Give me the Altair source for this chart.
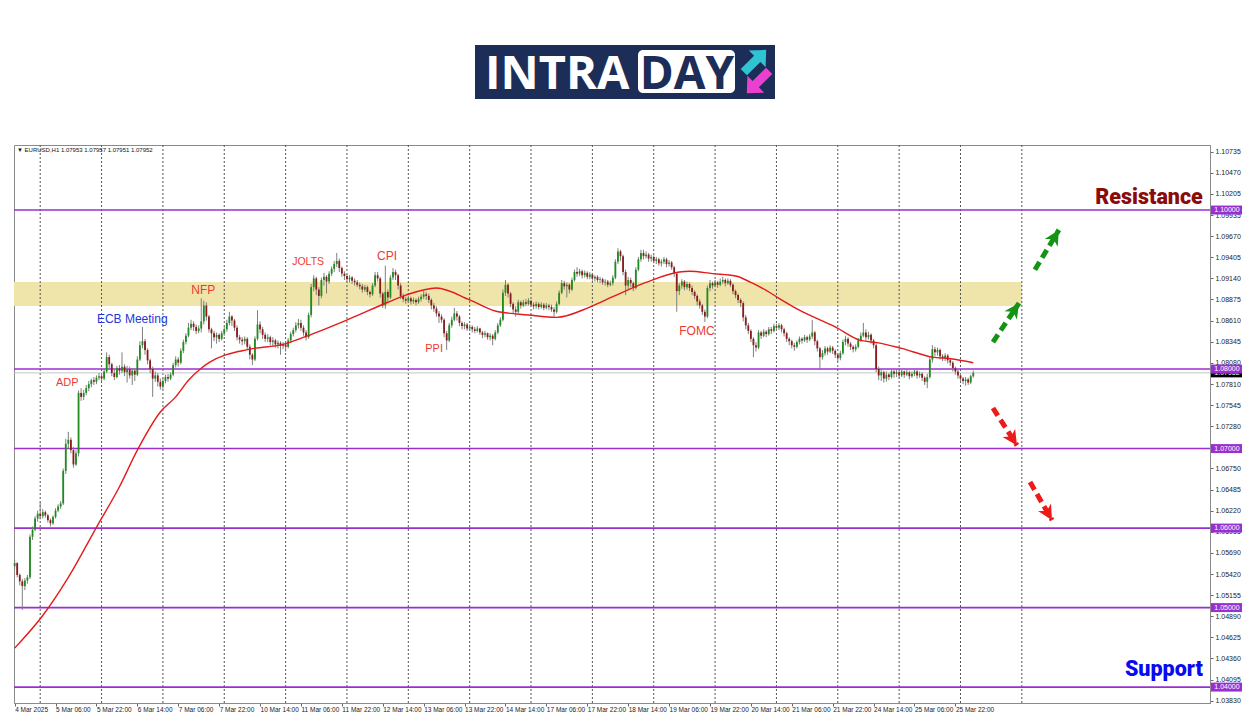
import json
import altair as alt
import pandas as pd

# ---------------- data ----------------
tick_labels = ["4 Mar 2025", "5 Mar 06:00", "5 Mar 22:00", "6 Mar 14:00", "7 Mar 06:00",
               "7 Mar 22:00", "10 Mar 14:00", "11 Mar 06:00", "11 Mar 22:00", "12 Mar 14:00",
               "13 Mar 06:00", "13 Mar 22:00", "14 Mar 14:00", "17 Mar 06:00", "17 Mar 22:00",
               "18 Mar 14:00", "19 Mar 06:00", "19 Mar 22:00", "20 Mar 14:00", "21 Mar 06:00",
               "21 Mar 22:00", "24 Mar 14:00", "25 Mar 06:00", "25 Mar 22:00"]
tick_bars = [0, 16, 32, 48, 64, 80, 96, 112, 128, 144, 160, 176, 192, 208, 224, 240,
             256, 272, 288, 304, 320, 336, 352, 368]
ytick_vals = [1.10735, 1.10470, 1.10205, 1.09935, 1.09670, 1.09405, 1.09140, 1.08875,
              1.08610, 1.08345, 1.08080, 1.07810, 1.07545, 1.07280, 1.07015, 1.06750,
              1.06485, 1.06220, 1.05955, 1.05690, 1.05420, 1.05155, 1.04890, 1.04625,
              1.04360, 1.04095, 1.03830]
grid_bars = [10, 34, 58, 82, 106, 130, 154, 178, 202, 226, 250, 274, 298, 322, 346, 370, 394]
levels = [1.10, 1.08, 1.07, 1.06, 1.05, 1.04]
current_price = 1.07952
zone_bars = [-0.25, 394]
zone_prices = [1.09094, 1.08792]

first_open = 1.0552
closes = [
    1.0556, 1.0541, 1.0533, 1.0527, 1.0534, 1.0538, 1.0589, 1.0598, 1.0612, 1.0618,
    1.0615, 1.0620, 1.0616, 1.0610, 1.0606, 1.0614, 1.0622, 1.0627, 1.0631, 1.0672,
    1.0706, 1.0711, 1.0698, 1.0680, 1.0694, 1.0770, 1.0765, 1.0770, 1.0776, 1.0781,
    1.0786, 1.0784, 1.0789, 1.0791, 1.0788, 1.0797, 1.0815, 1.0806, 1.0795, 1.0790,
    1.0801, 1.0798, 1.0803, 1.0796, 1.0800, 1.0792, 1.0798, 1.0793, 1.0812, 1.0830,
    1.0835, 1.0824, 1.0811, 1.0800, 1.0788, 1.0792, 1.0784, 1.0778, 1.0785, 1.0790,
    1.0788, 1.0793, 1.0805, 1.0812, 1.0808, 1.0823, 1.0834, 1.0842, 1.0852, 1.0857,
    1.0853, 1.0848, 1.0851, 1.0860, 1.0880, 1.0866, 1.0850, 1.0845, 1.0840, 1.0843,
    1.0838, 1.0845, 1.0850, 1.0858, 1.0866, 1.0861, 1.0852, 1.0840, 1.0837, 1.0835,
    1.0838, 1.0828, 1.0818, 1.0812, 1.0838, 1.0856, 1.0850, 1.0843, 1.0838, 1.0840,
    1.0834, 1.0836, 1.0831, 1.0833, 1.0829, 1.0831, 1.0828, 1.0836, 1.0844, 1.0849,
    1.0855, 1.0858, 1.0852, 1.0846, 1.0840, 1.0868, 1.0903, 1.0914, 1.0900, 1.0892,
    1.0912, 1.0916, 1.0910, 1.0920, 1.0926, 1.0932, 1.0936, 1.0927, 1.0920, 1.0917,
    1.0913, 1.0915, 1.0911, 1.0909, 1.0906, 1.0904, 1.0900, 1.0903, 1.0897, 1.0894,
    1.0905, 1.0918, 1.0914, 1.0895, 1.0880, 1.0897, 1.0890, 1.0915, 1.0922, 1.0918,
    1.0905, 1.0892, 1.0888, 1.0886, 1.0889, 1.0885, 1.0887, 1.0884, 1.0888, 1.0891,
    1.0894, 1.0892, 1.0887, 1.0880, 1.0876, 1.0870, 1.0866, 1.0862, 1.0845, 1.0836,
    1.0855, 1.0862, 1.0870, 1.0866, 1.0858, 1.0854, 1.0856, 1.0851, 1.0853, 1.0850,
    1.0848, 1.0851, 1.0846, 1.0843, 1.0845, 1.0840, 1.0842, 1.0838, 1.0846, 1.0855,
    1.0862, 1.0896, 1.0906, 1.0895, 1.0882, 1.0875, 1.0872, 1.0884, 1.0880, 1.0884,
    1.0882, 1.0886, 1.0881, 1.0879, 1.0882, 1.0878, 1.0881, 1.0877, 1.0880, 1.0878,
    1.0875, 1.0872, 1.0882, 1.0896, 1.0908, 1.0904, 1.0906, 1.0900, 1.0912, 1.0922,
    1.0920, 1.0923, 1.0918, 1.0921, 1.0916, 1.0919, 1.0914, 1.0916, 1.0912, 1.0913,
    1.0909, 1.0910, 1.0906, 1.0908, 1.0915, 1.0935, 1.0948, 1.0942, 1.0922, 1.0905,
    1.0912, 1.0908, 1.0902, 1.0925, 1.0938, 1.0946, 1.0942, 1.0944, 1.0939, 1.0941,
    1.0936, 1.0938, 1.0933, 1.0935, 1.0938, 1.0932, 1.0934, 1.0928, 1.0920, 1.0898,
    1.0905, 1.0910, 1.0903, 1.0907, 1.0902, 1.0897, 1.0892, 1.0885, 1.0880, 1.0872,
    1.0866, 1.0902, 1.0908, 1.0905, 1.0909, 1.0906, 1.0910, 1.0912, 1.0908, 1.0911,
    1.0906, 1.0898, 1.0893, 1.0887, 1.0883, 1.0865, 1.0855, 1.0848, 1.0838, 1.0830,
    1.0827, 1.0846, 1.0842, 1.0847, 1.0844, 1.0850, 1.0848, 1.0854, 1.0852, 1.0855,
    1.0850, 1.0845, 1.0838, 1.0835, 1.0830, 1.0828, 1.0834, 1.0838, 1.0836, 1.0840,
    1.0837, 1.0841, 1.0846, 1.0835, 1.0826, 1.0815, 1.0820, 1.0826, 1.0822, 1.0827,
    1.0823, 1.0818, 1.0814, 1.0820, 1.0834, 1.0838, 1.0832, 1.0828, 1.0825, 1.0828,
    1.0836, 1.0842, 1.0846, 1.0840, 1.0843, 1.0836, 1.0830, 1.0800, 1.0792, 1.0796,
    1.0788, 1.0793, 1.0790, 1.0797, 1.0794, 1.0796, 1.0792, 1.0797, 1.0793, 1.0796,
    1.0791, 1.0794, 1.0797, 1.0792, 1.0794, 1.0789, 1.0784, 1.0790, 1.0812, 1.0825,
    1.0821, 1.0824, 1.0816, 1.0814, 1.0817, 1.0811, 1.0808, 1.0801, 1.0797, 1.0792,
    1.0788, 1.0785, 1.0787, 1.0783, 1.0791, 1.07952,
]
highs = [
    1.0560, 1.0557, 1.0543, 1.0536, 1.0537, 1.0541, 1.0592, 1.0602, 1.0615, 1.0622,
    1.0633, 1.0624, 1.0622, 1.0618, 1.0612, 1.0616, 1.0625, 1.0630, 1.0634, 1.0675,
    1.0712, 1.0721, 1.0714, 1.0702, 1.0698, 1.0773, 1.0776, 1.0774, 1.0780, 1.0785,
    1.0788, 1.0790, 1.0792, 1.0795, 1.0794, 1.0801, 1.0821, 1.0818, 1.0808, 1.0799,
    1.0804, 1.0805, 1.0821, 1.0806, 1.0804, 1.0803, 1.0801, 1.0800, 1.0816, 1.0835,
    1.0853, 1.0838, 1.0826, 1.0813, 1.0803, 1.0797, 1.0795, 1.0788, 1.0789, 1.0793,
    1.0794, 1.0796, 1.0808, 1.0816, 1.0815, 1.0826, 1.0837, 1.0845, 1.0858, 1.0862,
    1.0860, 1.0856, 1.0855, 1.0889, 1.0886, 1.0884, 1.0868, 1.0852, 1.0848, 1.0846,
    1.0845, 1.0848, 1.0853, 1.0862, 1.0872, 1.0868, 1.0863, 1.0855, 1.0843, 1.0840,
    1.0841, 1.0840, 1.0831, 1.0820, 1.0841, 1.0874, 1.0860, 1.0853, 1.0846, 1.0844,
    1.0842, 1.0840, 1.0838, 1.0836, 1.0835, 1.0834, 1.0834, 1.0839, 1.0847, 1.0852,
    1.0859, 1.0863, 1.0862, 1.0855, 1.0849, 1.0871, 1.0907, 1.0918, 1.0916, 1.0903,
    1.0915, 1.0921, 1.0918, 1.0923, 1.0929, 1.0936, 1.0946, 1.0939, 1.0929, 1.0923,
    1.0920, 1.0918, 1.0917, 1.0914, 1.0912, 1.0909, 1.0907, 1.0906, 1.0905, 1.0899,
    1.0908, 1.0922, 1.0922, 1.0916, 1.0897, 1.0930, 1.0900, 1.0918, 1.0927, 1.0925,
    1.0920, 1.0908, 1.0895, 1.0891, 1.0892, 1.0891, 1.0890, 1.0889, 1.0891, 1.0894,
    1.0898, 1.0897, 1.0895, 1.0889, 1.0883, 1.0879, 1.0873, 1.0869, 1.0864, 1.0848,
    1.0858, 1.0866, 1.0877, 1.0873, 1.0868, 1.0860, 1.0859, 1.0858, 1.0856, 1.0855,
    1.0853, 1.0854, 1.0852, 1.0848, 1.0848, 1.0846, 1.0845, 1.0844, 1.0849, 1.0858,
    1.0865, 1.0900, 1.0912, 1.0908, 1.0897, 1.0884, 1.0879, 1.0887, 1.0886, 1.0887,
    1.0888, 1.0889, 1.0887, 1.0884, 1.0885, 1.0884, 1.0884, 1.0883, 1.0883, 1.0882,
    1.0881, 1.0878, 1.0885, 1.0899, 1.0912, 1.0911, 1.0909, 1.0908, 1.0915, 1.0925,
    1.0928, 1.0926, 1.0925, 1.0924, 1.0923, 1.0922, 1.0921, 1.0918, 1.0918, 1.0916,
    1.0915, 1.0913, 1.0912, 1.0911, 1.0918, 1.0938, 1.0952, 1.0950, 1.0944, 1.0925,
    1.0916, 1.0915, 1.0910, 1.0928, 1.0941, 1.0950, 1.0950, 1.0948, 1.0946, 1.0944,
    1.0943, 1.0941, 1.0940, 1.0938, 1.0941, 1.0940, 1.0937, 1.0936, 1.0930, 1.0922,
    1.0908, 1.0913, 1.0912, 1.0910, 1.0909, 1.0905, 1.0899, 1.0894, 1.0888, 1.0882,
    1.0875, 1.0905, 1.0912, 1.0910, 1.0912, 1.0911, 1.0914, 1.0916, 1.0914, 1.0914,
    1.0913, 1.0908, 1.0900, 1.0895, 1.0889, 1.0885, 1.0868, 1.0858, 1.0850, 1.0840,
    1.0834, 1.0849, 1.0848, 1.0850, 1.0849, 1.0853, 1.0853, 1.0857, 1.0857, 1.0858,
    1.0857, 1.0852, 1.0847, 1.0840, 1.0837, 1.0833, 1.0836, 1.0841, 1.0840, 1.0843,
    1.0842, 1.0844, 1.0862, 1.0848, 1.0837, 1.0828, 1.0824, 1.0829, 1.0828, 1.0830,
    1.0829, 1.0825, 1.0820, 1.0823, 1.0837, 1.0842, 1.0840, 1.0834, 1.0830, 1.0831,
    1.0839, 1.0846, 1.0858, 1.0850, 1.0847, 1.0845, 1.0838, 1.0832, 1.0803, 1.0800,
    1.0798, 1.0797, 1.0795, 1.0800, 1.0799, 1.0800, 1.0798, 1.0800, 1.0798, 1.0799,
    1.0798, 1.0797, 1.0800, 1.0799, 1.0797, 1.0796, 1.0791, 1.0794, 1.0815, 1.0830,
    1.0828, 1.0827, 1.0826, 1.0819, 1.0820, 1.0819, 1.0813, 1.0810, 1.0803, 1.0799,
    1.0794, 1.0790, 1.0790, 1.0789, 1.0793, 1.0798,
]
lows = [
    1.0548, 1.0538, 1.0528, 1.0497, 1.0522, 1.0530, 1.0536, 1.0585, 1.0596, 1.0608,
    1.0611, 1.0612, 1.0613, 1.0607, 1.0602, 1.0604, 1.0612, 1.0620, 1.0624, 1.0629,
    1.0668, 1.0700, 1.0694, 1.0676, 1.0678, 1.0690, 1.0760, 1.0761, 1.0767, 1.0772,
    1.0777, 1.0780, 1.0781, 1.0786, 1.0785, 1.0786, 1.0795, 1.0800, 1.0791, 1.0786,
    1.0788, 1.0793, 1.0795, 1.0791, 1.0783, 1.0788, 1.0780, 1.0785, 1.0791, 1.0810,
    1.0826, 1.0818, 1.0806, 1.0795, 1.0765, 1.0784, 1.0778, 1.0774, 1.0775, 1.0782,
    1.0784, 1.0786, 1.0791, 1.0802, 1.0803, 1.0806, 1.0820, 1.0831, 1.0840, 1.0849,
    1.0848, 1.0844, 1.0845, 1.0846, 1.0856, 1.0861, 1.0846, 1.0826, 1.0835, 1.0832,
    1.0834, 1.0836, 1.0842, 1.0847, 1.0855, 1.0854, 1.0848, 1.0836, 1.0832, 1.0830,
    1.0831, 1.0824, 1.0812, 1.0805, 1.0810, 1.0836, 1.0845, 1.0838, 1.0834, 1.0834,
    1.0830, 1.0829, 1.0827, 1.0826, 1.0818, 1.0825, 1.0822, 1.0826, 1.0833, 1.0841,
    1.0846, 1.0851, 1.0848, 1.0842, 1.0836, 1.0838, 1.0865, 1.0898, 1.0893, 1.0880,
    1.0889, 1.0905, 1.0895, 1.0907, 1.0917, 1.0922, 1.0928, 1.0922, 1.0916, 1.0912,
    1.0909, 1.0909, 1.0907, 1.0905, 1.0903, 1.0900, 1.0896, 1.0897, 1.0893, 1.0890,
    1.0892, 1.0903, 1.0910, 1.0890, 1.0877, 1.0876, 1.0885, 1.0888, 1.0912, 1.0912,
    1.0900, 1.0888, 1.0884, 1.0882, 1.0883, 1.0881, 1.0882, 1.0880, 1.0882, 1.0885,
    1.0888, 1.0887, 1.0883, 1.0875, 1.0872, 1.0866, 1.0858, 1.0858, 1.0840, 1.0824,
    1.0834, 1.0852, 1.0860, 1.0861, 1.0854, 1.0850, 1.0850, 1.0848, 1.0848, 1.0846,
    1.0845, 1.0846, 1.0843, 1.0839, 1.0840, 1.0837, 1.0836, 1.0830, 1.0836, 1.0844,
    1.0853, 1.0860, 1.0892, 1.0890, 1.0878, 1.0870, 1.0866, 1.0870, 1.0876, 1.0878,
    1.0879, 1.0880, 1.0878, 1.0875, 1.0876, 1.0875, 1.0876, 1.0874, 1.0875, 1.0874,
    1.0872, 1.0866, 1.0870, 1.0880, 1.0894, 1.0900, 1.0890, 1.0895, 1.0898, 1.0910,
    1.0916, 1.0917, 1.0914, 1.0915, 1.0913, 1.0913, 1.0911, 1.0910, 1.0909, 1.0908,
    1.0906, 1.0905, 1.0903, 1.0904, 1.0905, 1.0913, 1.0932, 1.0936, 1.0918, 1.0893,
    1.0900, 1.0903, 1.0898, 1.0900, 1.0923, 1.0935, 1.0938, 1.0939, 1.0935, 1.0935,
    1.0933, 1.0932, 1.0930, 1.0929, 1.0932, 1.0928, 1.0929, 1.0925, 1.0916, 1.0872,
    1.0893, 1.0901, 1.0899, 1.0900, 1.0898, 1.0893, 1.0888, 1.0880, 1.0876, 1.0868,
    1.0859, 1.0864, 1.0898, 1.0901, 1.0903, 1.0902, 1.0904, 1.0907, 1.0904, 1.0906,
    1.0903, 1.0894, 1.0889, 1.0883, 1.0878, 1.0860, 1.0850, 1.0844, 1.0834, 1.0815,
    1.0822, 1.0825, 1.0838, 1.0840, 1.0840, 1.0842, 1.0844, 1.0846, 1.0848, 1.0849,
    1.0846, 1.0841, 1.0834, 1.0830, 1.0826, 1.0823, 1.0826, 1.0831, 1.0832, 1.0834,
    1.0833, 1.0835, 1.0838, 1.0830, 1.0822, 1.0799, 1.0812, 1.0817, 1.0818, 1.0820,
    1.0819, 1.0814, 1.0810, 1.0811, 1.0818, 1.0830, 1.0828, 1.0824, 1.0821, 1.0822,
    1.0826, 1.0834, 1.0840, 1.0836, 1.0837, 1.0832, 1.0826, 1.0796, 1.0786, 1.0785,
    1.0783, 1.0784, 1.0786, 1.0788, 1.0789, 1.0790, 1.0788, 1.0790, 1.0789, 1.0791,
    1.0787, 1.0789, 1.0791, 1.0788, 1.0789, 1.0785, 1.0780, 1.0776, 1.0788, 1.0808,
    1.0816, 1.0817, 1.0812, 1.0810, 1.0810, 1.0807, 1.0804, 1.0797, 1.0793, 1.0788,
    1.0784, 1.0781, 1.0779, 1.0780, 1.0781, 1.0789,
]

ma_bars = [0, 11, 21, 32, 41, 48, 57, 63, 68, 73, 76, 92, 105, 114, 131, 146, 153, 165,
           178, 188, 201, 212, 225, 234, 247, 260, 264, 273, 282, 288, 294, 299, 307,
           321, 331, 338, 347, 359, 366, 375]
ma_vals = [1.0449, 1.0490, 1.0538, 1.0601, 1.0652, 1.0698, 1.0746, 1.0765, 1.0786,
           1.0801, 1.0808, 1.0825, 1.0831, 1.0841, 1.0863, 1.0884, 1.0893, 1.0902,
           1.0887, 1.0873, 1.0868, 1.0865, 1.0878, 1.0891, 1.0909, 1.0922, 1.0923,
           1.0920, 1.0917, 1.0909, 1.0899, 1.0889, 1.0874, 1.0853, 1.0836, 1.0833,
           1.0826, 1.0815, 1.0813, 1.0808]

note_labels = ["ADP", "ECB Meeting", "NFP", "JOLTS", "CPI", "PPI", "FOMC"]
note_bars = [20.6, 46.0, 73.8, 114.8, 145.7, 164.1, 266.9]
note_prices = [1.0782, 1.0863, 1.0899, 1.0935, 1.0942, 1.0825, 1.0848]
note_colors = ["#ee3a32", "#2238d8", "#ee3a32", "#ee3a32", "#ee3a32", "#ee3a32", "#ee3a32"]
note_sizes = [11, 12, 12, 10.5, 12, 11, 12]

zone_titles = ["Resistance", "Support"]
zone_title_bars = [464.8, 464.8]
zone_title_prices = [1.1015, 1.0421]
zone_title_colors = ["#8b0a0a", "#0a0af0"]

arrow_ids = ["up1", "up2", "down1", "down2"]
arrow_start_bars = [382.7, 399.1, 382.7, 397.2]
arrow_start_prices = [1.0834, 1.0925, 1.0751, 1.0658]
arrow_end_bars = [392.9, 408.5, 392.1, 405.8]
arrow_end_prices = [1.0883, 1.0975, 1.0704, 1.0610]
arrow_colors = ["#139413", "#139413", "#ee1a1a", "#ee1a1a"]
arrow_angles = [34, 31, 147, 150]

header_text = "\u25bc EURUSD,H1  1.07953 1.07957 1.07951 1.07952"

# ---------------- frames ----------------
opens = [first_open] + closes[:-1]
candles = pd.DataFrame({
    "bar": list(range(len(closes))),
    "open": opens,
    "close": closes,
    "high": [max(h, o, c) for h, o, c in zip(highs, opens, closes)],
    "low": [min(l, o, c) for l, o, c in zip(lows, opens, closes)],
})
ma_df = pd.DataFrame({"bar": ma_bars, "ma": ma_vals})
grid_df = pd.DataFrame({"bar": grid_bars})
level_df = pd.DataFrame({"price": levels, "label": [f"{v:.5f}" for v in levels]})
cur_df = pd.DataFrame({"price": [current_price], "label": [f"{current_price:.5f}"]})
zone_df = pd.DataFrame({"b0": [zone_bars[0]], "b1": [zone_bars[1]],
                        "p0": [zone_prices[0]], "p1": [zone_prices[1]]})
note_df = pd.DataFrame({"label": note_labels, "bar": note_bars, "price": note_prices,
                        "color": note_colors, "size": note_sizes})
title_df = pd.DataFrame({"label": zone_titles, "bar": zone_title_bars,
                         "price": zone_title_prices, "color": zone_title_colors})
arrow_line_df = pd.DataFrame({
    "id": arrow_ids * 2,
    "bar": arrow_start_bars + arrow_end_bars,
    "price": arrow_start_prices + arrow_end_prices,
    "color": arrow_colors * 2,
})
arrow_head_df = pd.DataFrame({"bar": arrow_end_bars, "price": arrow_end_prices,
                              "color": arrow_colors, "angle": arrow_angles})
one = pd.DataFrame({"k": [0]})

# ---------------- scales & axes ----------------
W, H = 1196, 558
XS = alt.Scale(domain=[-0.25, 467.6], nice=False, zero=False)
YS = alt.Scale(domain=[1.0380, 1.10818], nice=False, zero=False)
X_AX = alt.Axis(values=tick_bars, labelExpr=json.dumps(tick_labels) + "[round(datum.value / 16)]",
                title=None, labelFontSize=6.5, labelFont="Liberation Sans", labelColor="#222",
                labelAlign="left", labelPadding=0, tickSize=3, tickColor="#666",
                domainColor="#8a8a8a", grid=False, labelOverlap=False, labelFlush=False)
Y_AX = alt.Axis(orient="right", values=ytick_vals, format=".5f", title=None, labelFontSize=7,
                labelFont="Liberation Sans", labelColor="#222", tickSize=3, tickColor="#666",
                domainColor="#8a8a8a", grid=False, labelPadding=2, labelOverlap=False,
                labelFlush=False)


def X(f):
    return alt.X(f"{f}:Q", scale=XS, axis=X_AX)


def Y(f):
    return alt.Y(f"{f}:Q", scale=YS, axis=Y_AX)


PURPLE = "#9a2fd0"
NAVY = "#1c2d57"

zone = alt.Chart(zone_df).mark_rect(color="#efe4aa").encode(
    x=X("b0"), x2="b1", y=Y("p0"), y2="p1")
grid = alt.Chart(grid_df).mark_rule(color="#555555", strokeDash=[2, 2], strokeWidth=1).encode(x=X("bar"))
cur_line = alt.Chart(cur_df).mark_rule(color="#c4c4c4", strokeWidth=1).encode(y=Y("price"))
lv_lines = alt.Chart(level_df).mark_rule(color=PURPLE, strokeWidth=1.6).encode(y=Y("price"))
wicks = alt.Chart(candles).mark_rule(color="#7f7f7f", strokeWidth=1).encode(
    x=X("bar"), y=Y("low"), y2="high")
bodies = alt.Chart(candles).mark_rule(strokeWidth=1.8).encode(
    x=X("bar"), y=Y("open"), y2="close",
    color=alt.condition("datum.close >= datum.open", alt.value("#1e8c1e"), alt.value("#8b1a1a")))
ma = alt.Chart(ma_df).mark_line(color="#e31b1b", strokeWidth=1.4, interpolate="monotone").encode(
    x=X("bar"), y=Y("ma"))
notes = alt.Chart(note_df).mark_text(font="Liberation Sans", align="center", baseline="middle").encode(
    x=X("bar"), y=Y("price"), text="label:N",
    color=alt.Color("color:N", scale=None), size=alt.Size("size:Q", scale=None))
titles = alt.Chart(title_df).mark_text(font="Roboto", fontWeight=900, fontSize=21.5,
                                       align="right", baseline="middle").encode(
    x=X("bar"), y=Y("price"), text="label:N", color=alt.Color("color:N", scale=None))
arrow_lines = alt.Chart(arrow_line_df).mark_line(strokeWidth=5, strokeDash=[9, 5], strokeCap="butt").encode(
    x=X("bar"), y=Y("price"), detail="id:N", color=alt.Color("color:N", scale=None))
arrow_heads = alt.Chart(arrow_head_df).mark_point(
    shape="M0,0 L0.75,1.5 L0,1.05 L-0.75,1.5 Z", filled=True, size=400, opacity=1, strokeWidth=0).encode(
    x=X("bar"), y=Y("price"), angle=alt.Angle("angle:Q", scale=None),
    color=alt.Color("color:N", scale=None))

TAG_X = W + 17
TAG_SHAPE = "M-1,-0.28 L1,-0.28 L1,0.28 L-1,0.28 Z"
TAG_SIZE = 1024
cur_tag = alt.Chart(cur_df).mark_point(shape=TAG_SHAPE, filled=True, size=TAG_SIZE, color="#000000",
                                       opacity=1, strokeWidth=0).encode(
    x=alt.value(TAG_X), y=Y("price"))
cur_tag_txt = alt.Chart(cur_df).mark_text(color="white", fontSize=7, font="Liberation Sans").encode(
    x=alt.value(TAG_X), y=Y("price"), text="label:N")
lv_tags = alt.Chart(level_df).mark_point(shape=TAG_SHAPE, filled=True, size=TAG_SIZE, color=PURPLE,
                                         opacity=1, strokeWidth=0).encode(
    x=alt.value(TAG_X), y=Y("price"))
lv_tag_txt = alt.Chart(level_df).mark_text(color="white", fontSize=7, font="Liberation Sans").encode(
    x=alt.value(TAG_X), y=Y("price"), text="label:N")

header = alt.Chart(one).mark_text(text=header_text, fontSize=6, font="Liberation Sans",
                                  align="left", baseline="middle", color="#111").encode(
    x=alt.value(3), y=alt.value(5))

# logo
logo_bg = alt.Chart(one).mark_rect(color=NAVY).encode(
    x=alt.value(461), x2=alt.value(761), y=alt.value(-100), y2=alt.value(-46))
logo_box = alt.Chart(one).mark_rect(color="white", cornerRadius=5).encode(
    x=alt.value(624), x2=alt.value(721), y=alt.value(-95), y2=alt.value(-52))
logo_t1 = alt.Chart(one).mark_text(text="INTRA", font="Open Sans", fontWeight="bold", fontSize=47,
                                   color="white", align="left", baseline="alphabetic").encode(
    x=alt.value(471), y=alt.value(-56))
logo_t2 = alt.Chart(one).mark_text(text="DAY", font="Open Sans", fontWeight="bold", fontSize=46,
                                   color=NAVY, align="center", baseline="alphabetic").encode(
    x=alt.value(673), y=alt.value(-56))
ARROW = "M0,-1 L0.75,-0.2 L0.28,-0.2 L0.28,1 L-0.28,1 L-0.28,-0.2 L-0.75,-0.2 Z"
logo_a1 = alt.Chart(one).mark_point(shape=ARROW, filled=True, size=1000, angle=45, color="#2ec4d4",
                                    opacity=1, strokeWidth=0).encode(x=alt.value(741), y=alt.value(-84))
logo_a2 = alt.Chart(one).mark_point(shape=ARROW, filled=True, size=1000, angle=225, color="#e940d0",
                                    opacity=1, strokeWidth=0).encode(x=alt.value(744), y=alt.value(-63))

chart = alt.layer(
    zone, grid, cur_line, lv_lines, wicks, bodies, ma, notes, titles,
    arrow_lines, arrow_heads, cur_tag, cur_tag_txt, lv_tags, lv_tag_txt, header,
    logo_bg, logo_box, logo_t1, logo_t2, logo_a1, logo_a2,
).properties(
    width=W, height=H,
    padding={"left": 6, "top": 137, "right": 32, "bottom": 13},
    autosize=alt.AutoSizeParams(type="none"),
).configure_view(stroke="#8a8a8a", strokeWidth=1)

chart.save("out.html", embed_options={"renderer": "svg", "actions": False})
